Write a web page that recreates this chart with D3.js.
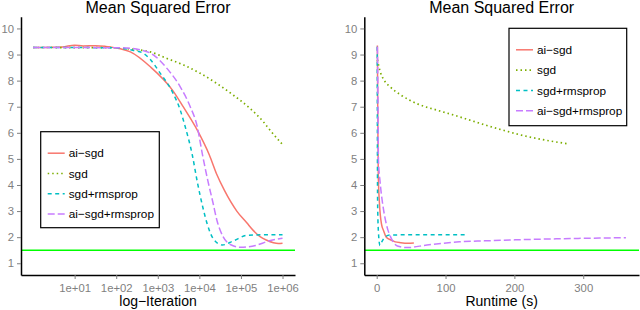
<!DOCTYPE html>
<html>
<head>
<meta charset="utf-8">
<script src="https://cdn.jsdelivr.net/npm/d3@7/dist/d3.min.js"></script>
<style>
	body { margin: 0; background: #fff; }
	svg { display: block; font-family: "Liberation Sans", Arial, sans-serif; }
</style>
</head>
<body>
<svg id="chart" width="640" height="310"></svg>
<script>
	// legend order
	var seriesNames = ["ai\u2212sgd", "sgd", "sgd+rmsprop", "ai\u2212sgd+rmsprop"];

	var yTicks = [1, 2, 3, 4, 5, 6, 7, 8, 9, 10];
	var iterTicks = [10, 100, 1000, 10000, 100000, 1000000];
	var iterTickLabels = ["1e+01", "1e+02", "1e+03", "1e+04", "1e+05", "1e+06"];
	var runtimeTicks = [0, 100, 200, 300];
	var targetMSE = 1.5;

	// left panel: [iteration, mse]
	var iterAiSgd = [[1, 9.27], [5, 9.29], [10, 9.36], [16, 9.33], [32, 9.34], [56, 9.31], [126, 9.22],
		[219, 9.1], [661, 8.53], [2344, 7.6], [4074, 7.0], [8913, 6.1], [17378, 5.15], [26303, 4.4],
		[39811, 3.8], [79433, 3.0], [138038, 2.55], [199526, 2.25], [288403, 2.02], [416869, 1.88],
		[602560, 1.79], [794328, 1.76], [1000000, 1.77]];
	var iterSgd = [[1, 9.27], [100, 9.26], [251, 9.2], [661, 9.1], [1660, 8.85], [4169, 8.6],
		[10471, 8.28], [26303, 7.89], [66069, 7.44], [165959, 6.93], [346737, 6.42], [501187, 6.1],
		[1000000, 5.55]];
	var iterSgdRms = [[1, 9.27], [100, 9.26], [219, 9.18], [447, 9.05], [661, 8.81], [1148, 8.28],
		[2239, 7.57], [3467, 6.87], [4571, 6.23], [6761, 5.15], [8913, 4.12], [12303, 3.1],
		[15488, 2.5], [21380, 1.95], [35481, 1.7], [66069, 1.86], [141254, 2.07], [380189, 2.09],
		[1000000, 2.09]];
	var iterAiSgdRms = [[1, 9.27], [126, 9.26], [380, 9.18], [794, 8.98], [1660, 8.47], [3467, 7.76],
		[6026, 7.0], [8913, 6.23], [11749, 5.2], [16218, 4.12], [21380, 3.3], [26303, 2.66],
		[37154, 2.02], [58884, 1.7], [100000, 1.61], [223872, 1.68], [457088, 1.85], [1000000, 1.96]];

	// right panel: [runtime s, mse]
	var timeAiSgd = [[1, 9.35], [1.6, 6.5], [2.3, 4.4], [4, 3.3], [7, 2.5], [10, 2.25], [14, 2.0],
		[20, 1.9], [27, 1.82], [35, 1.79], [45, 1.77], [54, 1.78]];
	var timeSgd = [[1, 8.8], [5, 8.35], [10, 8.05], [20, 7.75], [35, 7.45], [60, 7.1], [90, 6.85],
		[112, 6.68], [136, 6.48], [160, 6.28], [185, 6.09], [209, 5.92], [233, 5.78], [258, 5.66],
		[280, 5.57]];
	var timeSgdRms = [[0.8, 9.3], [1, 6.0], [1.3, 3.4], [2.5, 2.2], [4.8, 1.68], [8, 1.85], [12, 2.0],
		[19, 2.08], [40, 2.09], [130, 2.09]];
	var timeAiSgdRms = [[1, 9.3], [1.8, 7.5], [2.5, 5.0], [5, 4.1], [8, 3.4], [12, 2.75], [16, 2.3],
		[20, 2.02], [25, 1.78], [30, 1.66], [44, 1.6], [73, 1.7], [120, 1.82], [158, 1.86],
		[250, 1.93], [362, 1.98]];

	var colors = ["#F8766D", "#7CAE00", "#00BFC4", "#C77CFF"];
	var dashes = [null, "1.5,3", "4,3.5", "7,3"];

	var svg = d3.select("#chart");
	var plotTop = 16.7, plotBottom = 275;

	var y = d3.scaleLinear().domain([0.55, 10.45]).range([plotBottom, plotTop]);

	drawPanel({
		left: 21, right: 295,
		x: d3.scaleLog().domain([Math.pow(10, -0.29), Math.pow(10, 6.3)]).range([21, 295]),
		xTicks: iterTicks,
		xFormat: function(d, i) { return iterTickLabels[i]; },
		xTitle: "log\u2212Iteration",
		series: [iterAiSgd, iterSgd, iterSgdRms, iterAiSgdRms],
		legend: {x: 40.7, y: 131.7, w: 118.6, h: 96}
	});

	drawPanel({
		left: 364.3, right: 639,
		x: d3.scaleLinear().domain([-18, 381]).range([364.3, 639]),
		xTicks: runtimeTicks,
		xFormat: function(d) { return d; },
		xTitle: "Runtime (s)",
		series: [timeAiSgd, timeSgd, timeSgdRms, timeAiSgdRms],
		legend: {x: 509, y: 28.3, w: 117.7, h: 97.4}
	});

	function drawPanel(p) {
		var g = svg.append("g");
		var x = p.x;

		g.append("text")
			.attr("x", (p.left + p.right) / 2)
			.attr("y", 13)
			.attr("text-anchor", "middle")
			.style("font-size", "16px")
			.text("Mean Squared Error");

		var line = d3.line()
			.x(function(d) { return x(d[0]); })
			.y(function(d) { return y(d[1]); })
			.curve(d3.curveMonotoneX);

		p.series.forEach(function(s, i) {
			g.append("path")
				.attr("d", line(s))
				.attr("fill", "none")
				.attr("stroke", colors[i])
				.attr("stroke-width", i == 1 ? 1.7 : 1.5)
				.attr("stroke-dasharray", dashes[i]);
		});

		// target line
		g.append("line")
			.attr("x1", p.left).attr("x2", p.right)
			.attr("y1", y(targetMSE)).attr("y2", y(targetMSE))
			.attr("stroke", "#00ff00")
			.attr("stroke-width", 1.5);

		var yAxis = g.append("g")
			.attr("transform", "translate(" + p.left + ",0)")
			.call(d3.axisLeft(y).tickValues(yTicks).tickSize(4).tickSizeOuter(0).tickPadding(3));
		var xAxis = g.append("g")
			.attr("transform", "translate(0," + plotBottom + ")")
			.call(d3.axisBottom(x).tickValues(p.xTicks).tickFormat(p.xFormat)
				.tickSize(4).tickSizeOuter(0).tickPadding(5));

		[yAxis, xAxis].forEach(function(a) {
			a.attr("font-family", null).attr("font-size", null);
			a.select(".domain").attr("stroke", "#000").attr("stroke-width", 1.5);
			a.selectAll(".tick line").attr("stroke", "#7f7f7f").attr("stroke-width", 1);
			a.selectAll(".tick text").attr("fill", "#7f7f7f").style("font-size", "11.3px");
		});

		g.append("text")
			.attr("x", (p.left + p.right) / 2)
			.attr("y", 306)
			.attr("text-anchor", "middle")
			.style("font-size", "14px")
			.text(p.xTitle);

		// legend
		var L = p.legend;
		var lg = g.append("g").attr("transform", "translate(" + L.x + "," + L.y + ")");
		lg.append("rect")
			.attr("width", L.w).attr("height", L.h)
			.attr("fill", "#fff").attr("stroke", "#000").attr("stroke-width", 1.2);
		seriesNames.forEach(function(name, i) {
			var ry = 21.5 + i * 20.3;
			lg.append("line")
				.attr("x1", 7).attr("x2", 24)
				.attr("y1", ry).attr("y2", ry)
				.attr("stroke", colors[i])
				.attr("stroke-width", i == 1 ? 1.7 : 1.5)
				.attr("stroke-dasharray", dashes[i]);
			lg.append("text")
				.attr("x", 28).attr("y", ry)
				.attr("dy", "0.35em")
				.style("font-size", "11.8px")
				.text(name);
		});
	}
</script>
</body>
</html>
